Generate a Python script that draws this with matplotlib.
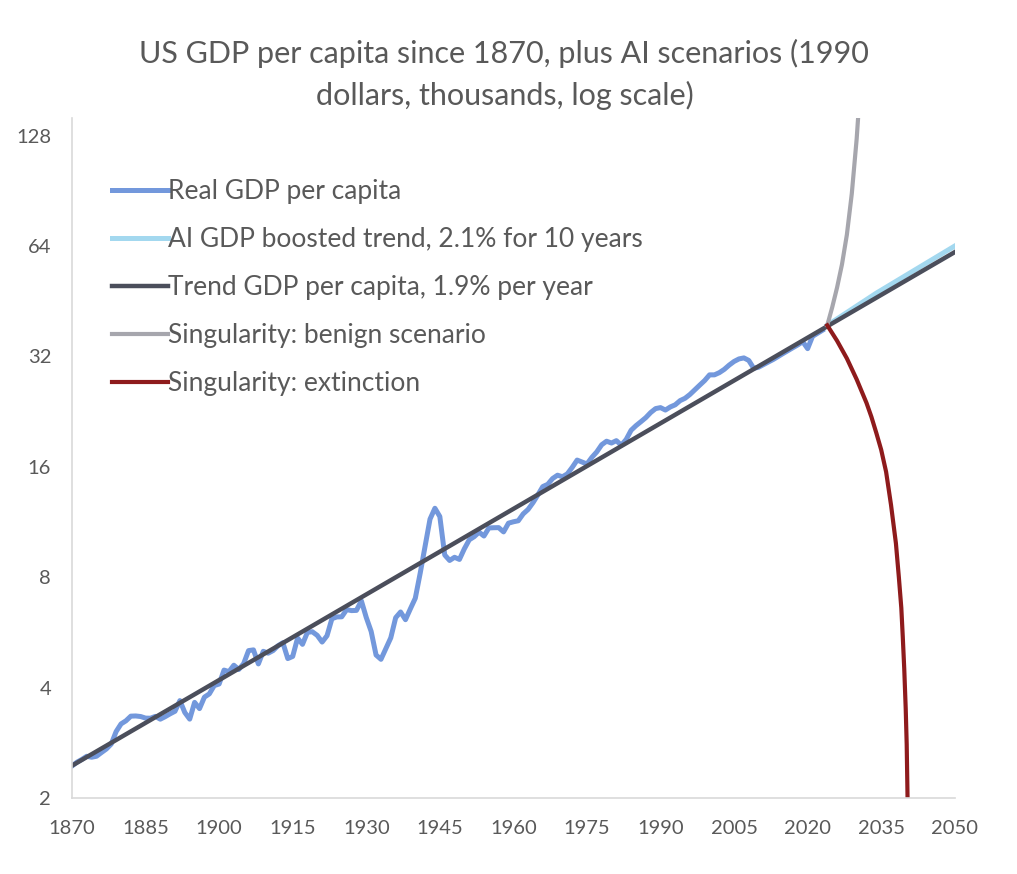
import matplotlib
matplotlib.use("Agg")
import matplotlib.pyplot as plt
import numpy as np

plt.rcParams['font.family'] = ['Lato', 'DejaVu Sans']

# Real GDP per capita, thousands of 1990 dollars
years = np.arange(1870, 2024)
gdp = np.array([
    2.445, 2.503, 2.547, 2.598, 2.583, 2.599, 2.660, 2.720, 2.806, 3.035,   # 1870s
    3.184, 3.247, 3.343, 3.347, 3.335, 3.302, 3.300, 3.338, 3.280, 3.332,   # 1880s
    3.392, 3.447, 3.686, 3.421, 3.281, 3.645, 3.505, 3.767, 3.845, 4.050,   # 1890s
    4.091, 4.464, 4.421, 4.603, 4.482, 4.648, 5.045, 5.068, 4.640, 5.023,   # 1900s
    4.964, 5.046, 5.201, 5.301, 4.799, 4.864, 5.459, 5.248, 5.659, 5.680,   # 1910s
    5.552, 5.323, 5.540, 6.164, 6.233, 6.238, 6.526, 6.486, 6.494, 6.899,   # 1920s
    6.213, 5.691, 4.908, 4.777, 5.114, 5.467, 6.204, 6.430, 6.126, 6.561,   # 1930s
    7.010, 8.206, 9.741, 11.518, 12.333, 11.709, 9.197, 8.886, 9.065, 8.944,  # 1940s
    9.561, 10.116, 10.316, 10.613, 10.359, 10.897, 10.914, 10.920, 10.631, 11.230,  # 1950s
    11.328, 11.402, 11.905, 12.242, 12.773, 13.419, 14.134, 14.330, 14.863, 15.179,  # 1960s
    15.030, 15.304, 15.944, 16.689, 16.491, 16.284, 16.975, 17.567, 18.373, 18.789,  # 1970s
    18.577, 18.856, 18.325, 19.000, 20.123, 20.717, 21.236, 21.788, 22.499, 23.059,  # 1980s
    23.201, 22.849, 23.298, 23.616, 24.245, 24.602, 25.199, 25.954, 26.721, 27.500,  # 1990s
    28.5, 28.5, 28.9, 29.5, 30.3, 31.0, 31.5, 31.7, 31.2, 29.7,             # 2000s
    29.9, 30.4, 30.9, 31.4, 32.0, 32.6, 33.2, 33.8, 34.4, 35.1,             # 2010s
    33.6, 36.3, 37.0, 37.7,                                                 # 2020s
])

trend_years = [1870, 2050]
trend_vals = [2.45, 61.6]

ai_years = [2024, 2034, 2050]
ai_vals = [38.9, 47.6, 64.0]

benign_years = [2024, 2025, 2026, 2027, 2028, 2029, 2030, 2031]
benign_vals = [38.9, 43.5, 49.3, 57.0, 68.7, 88.8, 125.5, 197.0]

ext_years = [2024, 2026, 2028, 2030, 2032, 2033, 2034, 2035, 2036, 2037,
             2038, 2038.6, 2039.1, 2039.4, 2039.7, 2040.0, 2040.2, 2040.4]
ext_vals = [38.9, 35.3, 31.6, 27.7, 23.9, 21.9, 19.8, 17.8, 15.5, 12.6,
            9.9, 8.0, 6.6, 5.5, 4.5, 3.5, 2.8, 1.9]

yticks = [2, 4, 8, 16, 32, 64, 128]
xticks = list(range(1870, 2051, 15))

fig = plt.figure(figsize=(10.17, 8.74), dpi=100)
ax = fig.add_axes([0.0708, 0.087, 0.868, 0.778])

ax.plot(years, gdp, color='#7398dc', lw=3.6, solid_joinstyle='round',
        label='Real GDP per capita')
ax.plot(ai_years, ai_vals, color='#a3d8ef', lw=3.6,
        label='AI GDP boosted trend, 2.1% for 10 years')
ax.plot(trend_years, trend_vals, color='#4b4e5b', lw=3.2,
        label='Trend GDP per capita, 1.9% per year')
ax.plot(benign_years, benign_vals, color='#a6a6ad', lw=3.0,
        label='Singularity: benign scenario')
ax.plot(ext_years, ext_vals, color='#8e1b1c', lw=3.0,
        label='Singularity: extinction')

ax.set_yscale('log')
ax.set_xlim(1870, 2050)
ax.set_ylim(2, 143)
ax.set_yticks(yticks)
ax.set_yticklabels([str(v) for v in yticks])
ax.minorticks_off()
ax.set_xticks(xticks)
ax.tick_params(length=0, labelsize=14.5, colors='#595959')
ax.tick_params(axis='y', pad=15)
ax.tick_params(axis='x', pad=16)

for s in ['top', 'right']:
    ax.spines[s].set_visible(False)
for s in ['left', 'bottom']:
    ax.spines[s].set_color('#d9d9d9')
    ax.spines[s].set_linewidth(1.2)

fig.suptitle('US GDP per capita since 1870, plus AI scenarios (1990\ndollars, thousands, log scale)',
             fontsize=22, color='#595959', y=0.956, x=0.496, linespacing=1.55)

leg = ax.legend(loc='upper left', bbox_to_anchor=(0.1, 0.807), bbox_transform=fig.transFigure,
                frameon=False, fontsize=19, handlelength=2.1, handletextpad=0.0,
                labelspacing=0.87, borderaxespad=0)
for t in leg.get_texts():
    t.set_color('#595959')

fig.savefig('out.png', dpi=100)
